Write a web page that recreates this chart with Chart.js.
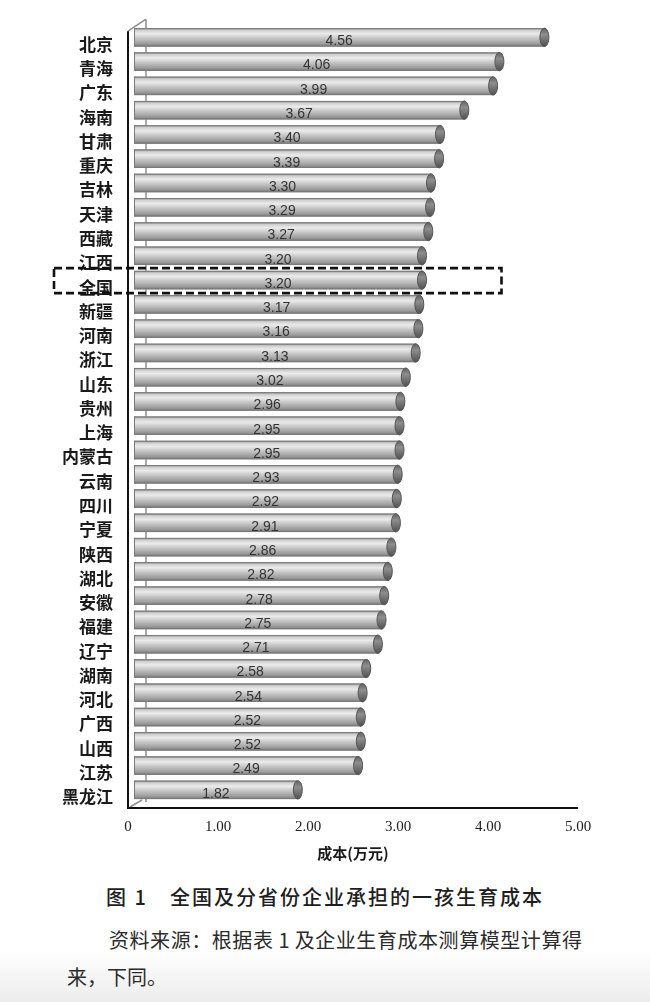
<!DOCTYPE html>
<html>
<head>
<meta charset="utf-8">
<script src="https://cdn.jsdelivr.net/npm/chart.js@4.4.0/dist/chart.umd.min.js"></script>
<style>
  body {
    margin: 0;
    width: 650px;
    height: 1002px;
    overflow: hidden;
    background: linear-gradient(to bottom, #ffffff 0px, #ffffff 950px, #ececec 1002px);
    font-family: "Noto Sans CJK SC", sans-serif;
  }
  .chart-box { position: relative; width: 650px; height: 870px; }
  .caption {
    margin-top: 13px;
    text-align: center;
    font-size: 20px;
    line-height: 28px;
    letter-spacing: 2px;
    font-weight: 500;
    color: #1e1e1e;
  }
  .note {
    margin: 10px 0 0 67px;
    width: 515px;
    font-size: 20px;
    line-height: 37px;
    text-indent: 42px;
    text-align: justify;
    color: #2b2b2b;
  }
</style>
</head>
<body>
<div class="chart-box"><canvas id="chart" width="650" height="870"></canvas></div>
<div class="caption">图 1　全国及分省份企业承担的一孩生育成本</div>
<p class="note">资料来源：根据表 1 及企业生育成本测算模型计算得来，下同。</p>

<script>
// categories, top to bottom
const provinces = ['北京', '青海', '广东', '海南', '甘肃', '重庆', '吉林', '天津', '西藏', '江西',
    '全国', '新疆', '河南', '浙江', '山东', '贵州', '上海', '内蒙古', '云南', '四川',
    '宁夏', '陕西', '湖北', '安徽', '福建', '辽宁', '湖南', '河北', '广西', '山西',
    '江苏', '黑龙江'];
// 成本 (万元)
const costs = [4.56, 4.06, 3.99, 3.67, 3.40, 3.39, 3.30, 3.29, 3.27, 3.20,
    3.20, 3.17, 3.16, 3.13, 3.02, 2.96, 2.95, 2.95, 2.93, 2.92,
    2.91, 2.86, 2.82, 2.78, 2.75, 2.71, 2.58, 2.54, 2.52, 2.52,
    2.49, 1.82];
const xTickLabels = ['0', '1.00', '2.00', '3.00', '4.00', '5.00'];
const highlighted = '全国';

// back wall / floor lines of the 3D frame
const framePlugin = {
    id: 'frame',
    beforeDatasetsDraw(chart) {
        const { ctx } = chart;
        const { left, right, top, bottom } = chart.chartArea;
        ctx.save();
        ctx.strokeStyle = '#8f8f8f';
        ctx.lineWidth = 1.5;
        ctx.beginPath();
        ctx.moveTo(left + 18, top - 6);
        ctx.lineTo(left + 18, bottom);
        ctx.moveTo(left, top + 6);
        ctx.lineTo(left + 18, top - 6);
        ctx.moveTo(left + 2, bottom + 5);
        ctx.lineTo(left + 14, bottom - 2);
        ctx.stroke();
        ctx.strokeStyle = '#111';
        ctx.lineWidth = 2;
        ctx.beginPath();
        ctx.moveTo(left, top + 6);
        ctx.lineTo(left, bottom + 6);
        ctx.lineTo(right, bottom + 6);
        ctx.stroke();
        ctx.restore();
    }
};

// cylinder shading, end caps and value labels on each bar
const cylinderPlugin = {
    id: 'cylinders',
    afterDatasetsDraw(chart) {
        const { ctx } = chart;
        const meta = chart.getDatasetMeta(0);
        ctx.save();
        meta.data.forEach((bar, i) => {
            const { x, y, base, height } = bar.getProps(['x', 'y', 'base', 'height'], true);
            const top = y - height / 2;
            const bot = y + height / 2;

            const g = ctx.createLinearGradient(0, top, 0, bot);
            g.addColorStop(0, '#8a8a8a');
            g.addColorStop(0.12, '#cfcfcf');
            g.addColorStop(0.3, '#ebebeb');
            g.addColorStop(0.55, '#c6c6c6');
            g.addColorStop(0.85, '#9b9b9b');
            g.addColorStop(1, '#777');
            ctx.fillStyle = g;
            ctx.fillRect(base, top, x - base, height);

            ctx.strokeStyle = '#7a7a7a';
            ctx.lineWidth = 1;
            ctx.beginPath();
            ctx.moveTo(base, top + 0.5);
            ctx.lineTo(x, top + 0.5);
            ctx.moveTo(base, bot - 0.5);
            ctx.lineTo(x, bot - 0.5);
            ctx.moveTo(base + 0.5, top);
            ctx.lineTo(base + 0.5, bot);
            ctx.stroke();

            const cg = ctx.createLinearGradient(0, top, 0, bot);
            cg.addColorStop(0, '#606060');
            cg.addColorStop(0.35, '#8e8e8e');
            cg.addColorStop(1, '#505050');
            ctx.fillStyle = cg;
            ctx.beginPath();
            ctx.ellipse(x, y, 4.5, height / 2, 0, 0, Math.PI * 2);
            ctx.fill();
            ctx.strokeStyle = '#555';
            ctx.stroke();

            ctx.fillStyle = '#333';
            ctx.font = '14px "Liberation Sans", sans-serif';
            ctx.textAlign = 'center';
            ctx.textBaseline = 'middle';
            ctx.fillText(costs[i].toFixed(2), (base + x) / 2, y + 4);
        });
        ctx.restore();
    }
};

// dashed box around the national row
const highlightPlugin = {
    id: 'highlight',
    afterDraw(chart) {
        const { ctx } = chart;
        const yc = chart.scales.y.getPixelForValue(provinces.indexOf(highlighted));
        const xr = chart.scales.x.getPixelForValue(4.15);
        ctx.save();
        ctx.strokeStyle = '#111';
        ctx.lineWidth = 2.6;
        ctx.setLineDash([8, 4]);
        ctx.strokeRect(54, yc - 12, xr - 54, 25);
        ctx.restore();
    }
};

new Chart(document.getElementById('chart'), {
    type: 'bar',
    data: {
        labels: provinces,
        datasets: [{
            data: costs,
            xAxisID: 'xb',
            backgroundColor: '#b9b9b9',
            borderWidth: 0,
            barPercentage: 0.76,
            categoryPercentage: 1
        }]
    },
    options: {
        indexAxis: 'y',
        responsive: false,
        animation: false,
        devicePixelRatio: 1,
        layout: { padding: { top: 24.4, right: 72, left: 0, bottom: 0 } },
        plugins: {
            legend: { display: false },
            tooltip: { enabled: false }
        },
        scales: {
            x: {
                type: 'linear',
                position: 'bottom',
                min: 0,
                max: 5,
                grid: { display: false, drawTicks: false },
                border: { display: false },
                ticks: {
                    stepSize: 1,
                    padding: 16,
                    color: '#222',
                    font: { family: '"Liberation Serif", serif', size: 15 },
                    callback: (v) => xTickLabels[v]
                },
                title: {
                    display: true,
                    text: '成本(万元)',
                    color: '#1a1a1a',
                    padding: { top: 0, bottom: 8 },
                    font: { family: '"Noto Sans CJK SC", sans-serif', size: 15, weight: 'bold' }
                },
                afterFit: (s) => { s.height = 68; }
            },
            xb: {
                type: 'linear',
                position: 'bottom',
                display: false,
                min: -0.0667,
                max: 4.9333
            },
            y: {
                type: 'category',
                grid: { display: false, drawTicks: false },
                border: { display: false },
                ticks: {
                    autoSkip: false,
                    padding: 15,
                    labelOffset: 7,
                    color: '#1a1a1a',
                    font: { family: '"Noto Sans CJK SC", sans-serif', size: 17, weight: 'bold' }
                },
                afterFit: (s) => { s.width = 128; }
            }
        }
    },
    plugins: [framePlugin, cylinderPlugin, highlightPlugin]
});
</script>
</body>
</html>
